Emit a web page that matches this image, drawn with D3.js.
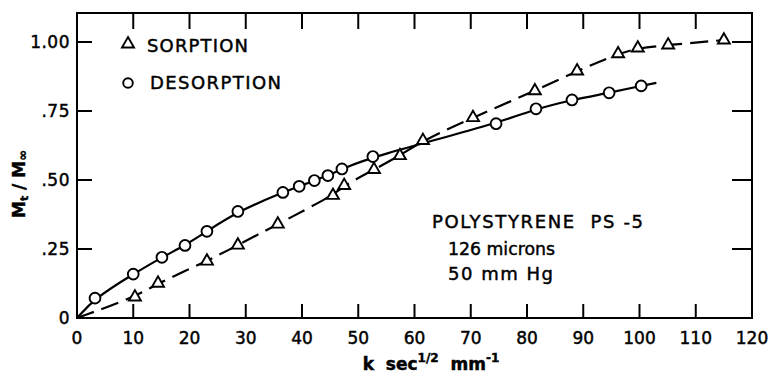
<!DOCTYPE html>
<html><head><meta charset="utf-8">
<script src="https://cdn.jsdelivr.net/npm/d3@7"></script>
<style>
html,body{margin:0;padding:0;background:#fff;}
svg text{font-family:"DejaVu Sans",sans-serif;fill:#000;stroke:#000;stroke-width:0.45px;}
</style></head>
<body><svg id="c" width="775" height="376"></svg>
<script>
// ---- data ----
const sorptionX = [10.3,14.4,23.1,28.6,35.7,45.5,47.5,52.8,57.4,61.5,70.4,81.4,88.9,96.2,99.7,105.1,115.0];
const sorptionY = [0.076,0.126,0.206,0.264,0.340,0.444,0.480,0.538,0.588,0.643,0.726,0.823,0.895,0.957,0.978,0.989,1.007];
const desorptionX = [3.2,10.0,15.1,19.2,23.1,28.6,36.6,39.5,42.2,44.6,47.1,52.6,74.5,81.6,88.0,94.6,100.3];
const desorptionY = [0.072,0.159,0.220,0.263,0.314,0.386,0.455,0.477,0.498,0.516,0.540,0.585,0.704,0.758,0.790,0.816,0.841];
const desorptionLineEnd = [103, 0.852];
const xTicks = [0,10,20,30,40,50,60,70,80,90,100,110,120];
const xTickLabels = ["0","10","20","30","40","50","60","70","80","90","100","110","120"];
const yTicks = [0,0.25,0.5,0.75,1.0];
const yTickLabels = ["0",".25",".50",".75","1.00"];
const legendLabels = ["SORPTION","DESORPTION"];
const noteLines = ["POLYSTYRENE  PS -5","126 microns","50 mm Hg"];

// ---- layout ----
const svg = d3.select("#c");
const L = 77, T = 13, R = 752, B = 318;
const x = d3.scaleLinear().domain([0,120]).range([L,R]);
const y = d3.scaleLinear().domain([0,1]).range([B,42]);

// frame
svg.append("rect").attr("x",L).attr("y",T).attr("width",R-L).attr("height",B-T)
  .attr("fill","none").attr("stroke","#000").attr("stroke-width",2);

// ticks (inward)
const inner = xTicks.filter(v=>v>0 && v<120);
svg.append("g").selectAll("line.bt").data(inner).join("line")
  .attr("x1",d=>x(d)).attr("x2",d=>x(d)).attr("y1",B).attr("y2",B-14)
  .attr("stroke","#000").attr("stroke-width",2);
svg.append("g").selectAll("line.tt").data(inner).join("line")
  .attr("x1",d=>x(d)).attr("x2",d=>x(d)).attr("y1",T).attr("y2",T+16)
  .attr("stroke","#000").attr("stroke-width",2);
const yin = yTicks.filter(v=>v>0);
svg.append("g").selectAll("line.lt").data(yin).join("line")
  .attr("x1",L).attr("x2",L+15).attr("y1",d=>y(d)).attr("y2",d=>y(d))
  .attr("stroke","#000").attr("stroke-width",2);
svg.append("g").selectAll("line.rt").data(yin).join("line")
  .attr("x1",R-20).attr("x2",R).attr("y1",d=>y(d)).attr("y2",d=>y(d))
  .attr("stroke","#000").attr("stroke-width",2);

// tick labels
svg.append("g").selectAll("text").data(xTicks).join("text")
  .attr("x",d=>x(d)).attr("y",344).attr("text-anchor","middle")
  .attr("font-size",17).text((d,i)=>xTickLabels[i]);
svg.append("g").selectAll("text").data(yTicks).join("text")
  .attr("x",70).attr("y",d=>y(d)+6).attr("text-anchor","end")
  .attr("font-size",17).attr("letter-spacing",0.5).text((d,i)=>yTickLabels[i]);

// axis titles
const xl = svg.append("text").attr("x",431).attr("y",370).attr("text-anchor","middle")
  .attr("font-size",17).attr("font-weight","bold").attr("xml:space","preserve");
xl.append("tspan").text("k  sec");
xl.append("tspan").attr("font-size",12).attr("dy",-8).text("1/2");
xl.append("tspan").attr("dy",8).text("  mm");
xl.append("tspan").attr("font-size",12).attr("dy",-8).text("-1");

const yl = svg.append("text").attr("transform","translate(25,184) rotate(-90)")
  .attr("text-anchor","middle").attr("font-size",17).attr("font-weight","bold");
yl.append("tspan").text("M");
yl.append("tspan").attr("font-size",11).attr("dy",3).text("t");
yl.append("tspan").attr("dy",-3).text(" / M");
yl.append("tspan").attr("font-size",13).attr("dy",2).text("∞");

// lines
const sorpLine = [[0,0]].concat(sorptionX.map((v,i)=>[v,sorptionY[i]]));
const desLine = [[0,0]].concat(desorptionX.map((v,i)=>[v,desorptionY[i]]), [desorptionLineEnd]);
const line = d3.line().x(d=>x(d[0])).y(d=>y(d[1])).curve(d3.curveBasis);
svg.append("path").attr("d",line(sorpLine)).attr("fill","none").attr("stroke","#000")
  .attr("stroke-width",2.2).attr("stroke-dasharray","18,8");
svg.append("path").attr("d",line(desLine)).attr("fill","none").attr("stroke","#000")
  .attr("stroke-width",2.2);

// markers
const tri = d3.symbol().type(d3.symbolTriangle).size(62);
svg.append("g").selectAll("path").data(sorptionX).join("path")
  .attr("d",tri).attr("transform",(d,i)=>`translate(${x(d)},${y(sorptionY[i])})`)
  .attr("fill","#fff").attr("stroke","#000").attr("stroke-width",1.9);
svg.append("g").selectAll("circle").data(desorptionX).join("circle")
  .attr("cx",d=>x(d)).attr("cy",(d,i)=>y(desorptionY[i])).attr("r",5.4)
  .attr("fill","#fff").attr("stroke","#000").attr("stroke-width",1.9);

// legend
svg.append("path").attr("d",tri).attr("transform","translate(128,44)")
  .attr("fill","#fff").attr("stroke","#000").attr("stroke-width",1.9);
svg.append("circle").attr("cx",128).attr("cy",83).attr("r",4.8)
  .attr("fill","#fff").attr("stroke","#000").attr("stroke-width",1.9);
svg.append("text").attr("x",147).attr("y",52).attr("font-size",18)
  .attr("textLength",101).attr("lengthAdjust","spacing").text(legendLabels[0]);
svg.append("text").attr("x",150).attr("y",89).attr("font-size",18)
  .attr("textLength",131).attr("lengthAdjust","spacing").text(legendLabels[1]);

// annotation
svg.append("text").attr("x",432).attr("y",228).attr("font-size",18)
  .attr("textLength",211).attr("lengthAdjust","spacing").attr("xml:space","preserve").text(noteLines[0]);
svg.append("text").attr("x",448).attr("y",255).attr("font-size",18)
  .attr("textLength",107).attr("lengthAdjust","spacingAndGlyphs").text(noteLines[1]);
svg.append("text").attr("x",448).attr("y",280).attr("font-size",18)
  .attr("textLength",105).attr("lengthAdjust","spacing").attr("xml:space","preserve").text(noteLines[2]);
</script></body></html>
